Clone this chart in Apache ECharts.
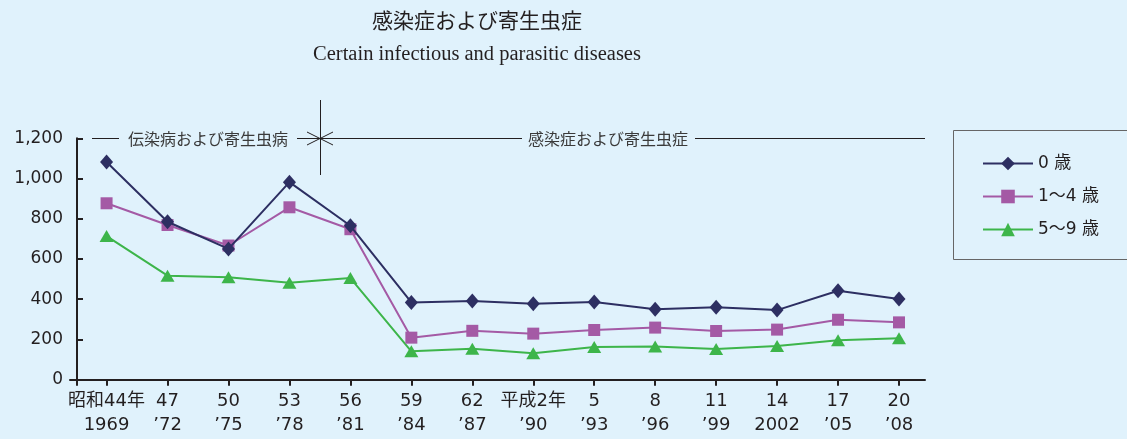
<!DOCTYPE html>
<html>
<head>
<meta charset="utf-8">
<script src="https://cdn.jsdelivr.net/npm/echarts@6/dist/echarts.min.js"></script>
<style>
  html, body { margin: 0; padding: 0; background: #e0f2fc; }
  #chart { width: 1127px; height: 439px; }
</style>
</head>
<body>
<div id="chart"></div>
<script>
const years = [1969, 1972, 1975, 1978, 1981, 1984, 1987, 1990, 1993, 1996, 1999, 2002, 2005, 2008];
const eraLabels = ['昭和44年', '47', '50', '53', '56', '59', '62', '平成2年', '5', '8', '11', '14', '17', '20'];
const westLabels = ['1969', '’72', '’75', '’78', '’81', '’84', '’87', '’90', '’93', '’96', '’99', '2002', '’05', '’08'];
const age0 = [1082, 785, 650, 982, 765, 384, 391, 378, 386, 350, 360, 346, 442, 401];
const age1to4 = [877, 769, 667, 857, 748, 209, 243, 229, 247, 259, 242, 249, 298, 285];
const age5to9 = [714, 517, 509, 482, 505, 141, 154, 131, 163, 165, 153, 167, 196, 206];
const seriesNames = ['0 歳', '1～4 歳', '5～9 歳'];
const colors = ['#2d2f62', '#a45aa5', '#3db54a'];

const sans = '"DejaVu Sans", "Noto Sans CJK JP", sans-serif';
const cjk = '"Noto Sans CJK JP", sans-serif';
const ink = '#231f20';

function pairs(vals) {
  return years.map((y, i) => [y, vals[i]]);
}

// divider decoration drawn over the plot top
const lineStyle = { stroke: ink, lineWidth: 1 };
function seg(x1, y1, x2, y2) {
  return { type: 'line', shape: { x1: x1, y1: y1, x2: x2, y2: y2 }, style: lineStyle };
}
function note(x, text) {
  return {
    type: 'text', x: x, y: 138.5,
    style: { text: text, font: '16px ' + cjk, fill: '#3a3a3a', textAlign: 'center', textVerticalAlign: 'middle' }
  };
}

const chart = echarts.init(document.getElementById('chart'));
chart.setOption({
  backgroundColor: '#e0f2fc',
  color: colors,
  animation: false,
  title: {
    text: '感染症および寄生虫症',
    subtext: 'Certain infectious and parasitic diseases',
    left: 472,
    top: 5,
    textAlign: 'center',
    itemGap: 13,
    textStyle: { fontFamily: cjk, fontSize: 21, fontWeight: 'normal', color: ink },
    subtextStyle: { fontFamily: '"Liberation Serif", serif', fontSize: 20.5, color: ink }
  },
  legend: {
    data: seriesNames,
    orient: 'vertical',
    left: 982,
    top: 155,
    itemWidth: 50,
    itemHeight: 17,
    itemGap: 16,
    padding: 0,
    textStyle: { fontFamily: sans, fontSize: 17, color: ink }
  },
  grid: { left: 70, right: 202, top: 138.3, bottom: 59.3 },
  xAxis: {
    type: 'value',
    min: 1967.2,
    max: 2009.28,
    splitLine: { show: false },
    axisLine: { lineStyle: { color: ink, width: 2 } },
    axisTick: {
      customValues: [1967.54].concat(years),
      length: 6,
      lineStyle: { color: ink, width: 2 }
    },
    axisLabel: {
      customValues: years,
      margin: 10,
      color: ink,
      fontFamily: sans,
      fontSize: 18,
      lineHeight: 24,
      formatter: function (v) {
        const i = years.indexOf(v);
        return i < 0 ? '' : eraLabels[i] + '\n' + westLabels[i];
      }
    }
  },
  yAxis: {
    type: 'value',
    min: 0,
    max: 1200,
    interval: 200,
    offset: -7,
    splitLine: { show: false },
    axisLine: { show: true, lineStyle: { color: ink, width: 2 } },
    axisTick: { show: true, inside: true, length: 6, lineStyle: { color: ink, width: 2 } },
    axisLabel: {
      margin: 14,
      color: ink,
      fontFamily: sans,
      fontSize: 17,
      formatter: v => v.toLocaleString('en-US')
    }
  },
  graphic: [
    seg(92, 138.5, 119, 138.5),
    note(208, '伝染病および寄生虫病'),
    seg(297, 138.5, 522, 138.5),
    note(608, '感染症および寄生虫症'),
    seg(695, 138.5, 925, 138.5),
    seg(320.5, 100, 320.5, 175),
    seg(307, 132, 333, 145),
    seg(307, 145, 333, 132),
    // legend frame runs off the right edge like the original
    {
      type: 'rect',
      shape: { x: 953.5, y: 130.5, width: 220, height: 129 },
      style: { fill: null, stroke: '#666', lineWidth: 1 }
    }
  ],
  series: [
    {
      name: seriesNames[0],
      type: 'line',
      symbol: 'diamond',
      symbolSize: [13, 15],
      lineStyle: { width: 2 },
      data: pairs(age0),
      z: 4
    },
    {
      name: seriesNames[1],
      type: 'line',
      symbol: 'rect',
      symbolSize: 12,
      lineStyle: { width: 2 },
      data: pairs(age1to4),
      z: 3
    },
    {
      name: seriesNames[2],
      type: 'line',
      symbol: 'triangle',
      symbolSize: [14, 12],
      lineStyle: { width: 2 },
      data: pairs(age5to9),
      z: 2
    }
  ]
});
</script>
</body>
</html>
